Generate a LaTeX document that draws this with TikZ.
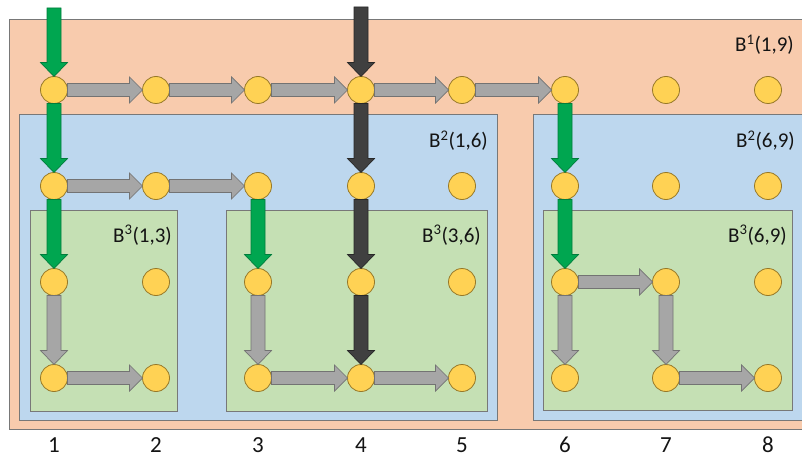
\documentclass[tikz,border=0pt]{standalone}
\usepackage{fontspec}
\setmainfont{Carlito}
\usetikzlibrary{calc}
\definecolor{bgorange}{RGB}{248,203,173}
\definecolor{bgblue}{RGB}{189,215,238}
\definecolor{bggreen}{RGB}{197,224,180}
\definecolor{boxline}{RGB}{120,120,120}
\definecolor{dotfill}{RGB}{255,210,84}
\definecolor{dotline}{RGB}{150,120,40}
\definecolor{arrgray}{RGB}{166,166,166}
\definecolor{arrgrayline}{RGB}{115,115,115}
\definecolor{arrgreen}{RGB}{0,166,80}
\definecolor{arrgreenline}{RGB}{0,125,60}
\definecolor{arrdark}{RGB}{64,64,64}
\definecolor{arrdarkline}{RGB}{40,40,40}
\definecolor{txt}{RGB}{20,20,20}
\tikzset{
  dot/.style={circle, minimum size=27pt, inner sep=0pt, outer sep=0pt, fill=dotfill, draw=dotline, line width=0.8pt},
  grayarr/.style={fill=arrgray, draw=arrgrayline, line width=0.7pt, line join=miter},
  greenarr/.style={fill=arrgreen, draw=arrgreenline, line width=0.7pt, line join=miter},
  darkarr/.style={fill=arrdark, draw=arrdarkline, line width=0.7pt, line join=miter},
  boxo/.style={fill=bgorange, draw=boxline, line width=1pt},
  boxb/.style={fill=bgblue, draw=boxline, line width=1pt},
  boxg/.style={fill=bggreen, draw=boxline, line width=1pt},
  lbl/.style={anchor=base east, inner sep=0pt, text=txt, font=\fontsize{21}{24}\selectfont},
  num/.style={anchor=base, inner sep=0pt, text=txt, font=\fontsize{23}{26}\selectfont}
}
% horizontal block arrow: #1 style, #2 start point, #3 target node
\newcommand\harr[3]{\draw[#1] ($(#2)+(0,-6.5)$) -- ($(#3.west)+(-13,-6.5)$) -- ($(#3.west)+(-13,-13)$) -- (#3.west) -- ($(#3.west)+(-13,13)$) -- ($(#3.west)+(-13,6.5)$) -- ($(#2)+(0,6.5)$) -- cycle;}
% vertical block arrow
\newcommand\varr[3]{\draw[#1] ($(#2)+(-7,0)$) -- ($(#3.north)+(-7,-14)$) -- ($(#3.north)+(-13.5,-14)$) -- (#3.north) -- ($(#3.north)+(13.5,-14)$) -- ($(#3.north)+(7,-14)$) -- ($(#2)+(7,0)$) -- cycle;}
\begin{document}
\begin{tikzpicture}[x=1pt,y=-1pt]
\useasboundingbox (0,0) rectangle (802,457);
\begin{scope}
\clip (0,0) rectangle (802,457);
\draw[boxo] (9,20) rectangle (815,429);
\draw[boxb] (19,115) rectangle (497,420);
\draw[boxb] (533,115) rectangle (815,420);
\end{scope}
\draw[boxg] (30,210) rectangle (177,411);
\draw[boxg] (226,210) rectangle (487,411);
\draw[boxg] (543,210) rectangle (792,410);

\node[lbl] (L1) at (794,52) {B\textsuperscript{1}(1,9)};
\node[lbl] (L2) at (488,148) {B\textsuperscript{2}(1,6)};
\node[lbl] (L3) at (795,148) {B\textsuperscript{2}(6,9)};
\node[lbl] (L4) at (172,242) {B\textsuperscript{3}(1,3)};
\node[lbl] (L5) at (481,242) {B\textsuperscript{3}(3,6)};
\node[lbl] (L6) at (787,242) {B\textsuperscript{3}(6,9)};

\foreach \c/\x in {1/54,2/156,3/258,4/361,5/462,6/565,7/666,8/768}{
  \foreach \r/\y in {1/90,2/186,3/282,4/378}{
    \node[dot] (d\c\r) at (\x,\y) {};
  }
  \node[num] (n\c) at (\x,452) {\c};
}

\coordinate (t1) at (54,8);
\coordinate (t4) at (361,7);

% green
\varr{greenarr}{t1}{d11}
\varr{greenarr}{d11.south}{d12}
\varr{greenarr}{d12.south}{d13}
\varr{greenarr}{d32.south}{d33}
\varr{greenarr}{d61.south}{d62}
\varr{greenarr}{d62.south}{d63}
% dark
\varr{darkarr}{t4}{d41}
\varr{darkarr}{d41.south}{d42}
\varr{darkarr}{d42.south}{d43}
\varr{darkarr}{d43.south}{d44}
% gray vertical
\varr{grayarr}{d13.south}{d14}
\varr{grayarr}{d33.south}{d34}
\varr{grayarr}{d63.south}{d64}
\varr{grayarr}{d73.south}{d74}
% gray horizontal
\harr{grayarr}{d11.east}{d21}
\harr{grayarr}{d21.east}{d31}
\harr{grayarr}{d31.east}{d41}
\harr{grayarr}{d41.east}{d51}
\harr{grayarr}{d51.east}{d61}
\harr{grayarr}{d12.east}{d22}
\harr{grayarr}{d22.east}{d32}
\harr{grayarr}{d14.east}{d24}
\harr{grayarr}{d34.east}{d44}
\harr{grayarr}{d44.east}{d54}
\harr{grayarr}{d63.east}{d73}
\harr{grayarr}{d74.east}{d84}
\end{tikzpicture}
\end{document}
